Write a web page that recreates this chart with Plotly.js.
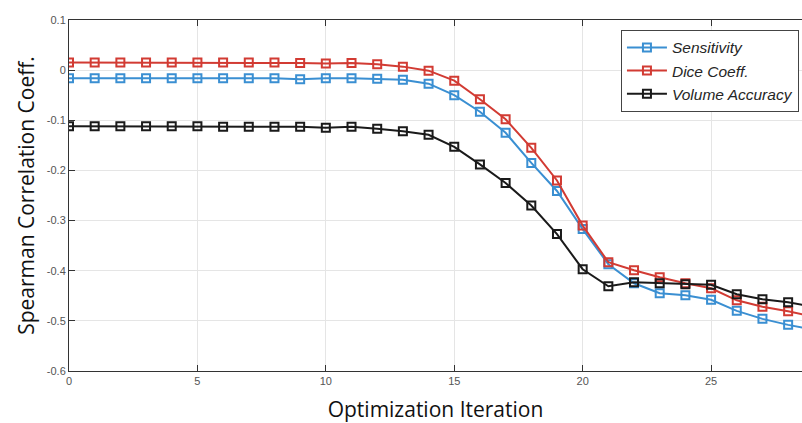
<!DOCTYPE html>
<html>
<head>
<meta charset="utf-8">
<script src="https://cdn.plot.ly/plotly-3.0.1.min.js"></script>
<style>html,body{margin:0;padding:0;background:#fff;}#chart{width:802px;height:423px;}</style>
</head>
<body>
<div id="chart"></div>
<script>
var iterations = [0,1,2,3,4,5,6,7,8,9,10,11,12,13,14,15,16,17,18,19,20,21,22,23,24,25,26,27,28,29];
var sensitivity = [-0.016,-0.016,-0.016,-0.016,-0.016,-0.016,-0.016,-0.016,-0.016,-0.018,-0.016,-0.016,-0.017,-0.019,-0.027,-0.050,-0.083,-0.125,-0.185,-0.241,-0.317,-0.387,-0.425,-0.445,-0.449,-0.458,-0.480,-0.496,-0.508,-0.518];
var diceCoeff = [0.015,0.015,0.015,0.015,0.015,0.015,0.015,0.015,0.015,0.014,0.013,0.014,0.012,0.007,-0.001,-0.021,-0.058,-0.098,-0.155,-0.220,-0.310,-0.383,-0.399,-0.413,-0.425,-0.435,-0.459,-0.472,-0.481,-0.492];
var volumeAccuracy = [-0.112,-0.112,-0.112,-0.112,-0.112,-0.112,-0.113,-0.113,-0.113,-0.113,-0.115,-0.113,-0.117,-0.122,-0.129,-0.153,-0.188,-0.225,-0.270,-0.327,-0.397,-0.431,-0.423,-0.425,-0.427,-0.428,-0.447,-0.457,-0.463,-0.472];
var seriesNames = ['Sensitivity','Dice Coeff.','Volume Accuracy'];
var seriesColors = ['#3a8fd2','#d23b33','#1a1a1a'];
var seriesData = [sensitivity, diceCoeff, volumeAccuracy];
var xTicks = [0,5,10,15,20,25];
var yTicks = [0.1,0,-0.1,-0.2,-0.3,-0.4,-0.5,-0.6];
var yTickText = ['0.1','0','-0.1','-0.2','-0.3','-0.4','-0.5','-0.6'];

var traces = seriesData.map(function(d,i){
  return {
    x: iterations, y: d, name: seriesNames[i], type:'scatter', mode:'lines+markers',
    line:{color:seriesColors[i], width:2},
    marker:{symbol:'square-open', size:8, color:seriesColors[i], line:{width:2, color:seriesColors[i]}},
    cliponaxis:true
  };
});

var layout = {
  width:802, height:423,
  margin:{l:69, r:0, t:20, b:52},
  paper_bgcolor:'#fff', plot_bgcolor:'#fff',
  showlegend:true,
  legend:{x:0.753, y:0.972, xanchor:'left', yanchor:'top', bgcolor:'#fff', bordercolor:'#444', borderwidth:1,
    font:{family:'Liberation Sans, Arial, sans-serif', size:15.5, color:'#262626', style:'italic'},
    tracegroupgap:0, itemwidth:40},
  xaxis:{range:[0,28.54], tickvals:xTicks, ticktext:xTicks.map(String), ticks:'inside', ticklen:6, tickcolor:'#333',
    showgrid:true, gridcolor:'#e5e5e5', zeroline:false, showline:true, linecolor:'#333', linewidth:1, mirror:'ticks',
    tickfont:{family:'Liberation Sans, Arial, sans-serif', size:11, color:'#555'},
    title:{text:'Optimization Iteration', font:{family:'Open Sans, sans-serif', size:21, color:'#111'}, standoff:19}},
  yaxis:{range:[-0.6,0.1], tickvals:yTicks, ticktext:yTickText, ticks:'inside', ticklen:6, tickcolor:'#333',
    showgrid:true, gridcolor:'#e5e5e5', zeroline:false, showline:true, linecolor:'#333', linewidth:1,
    tickfont:{family:'Liberation Sans, Arial, sans-serif', size:11, color:'#555'},
    title:{text:'Spearman Correlation Coeff.', font:{family:'Open Sans, sans-serif', size:21, color:'#111'}, standoff:6}}
};
Plotly.newPlot('chart', traces, layout, {displayModeBar:false, staticPlot:true});
</script>
</body>
</html>
